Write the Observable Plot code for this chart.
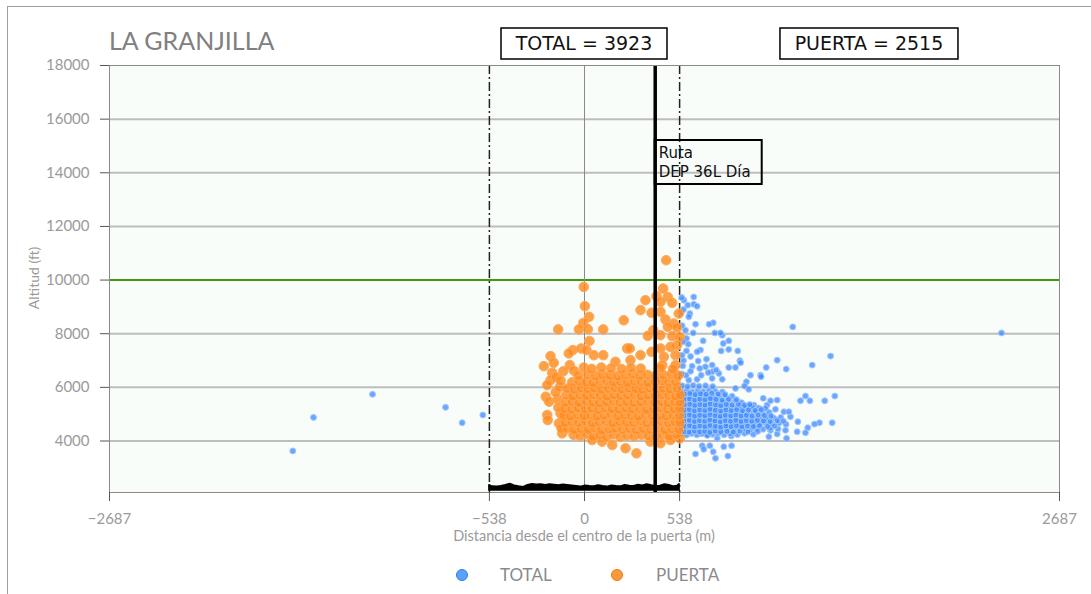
<!DOCTYPE html>
<html><head><meta charset="utf-8">
<script src="https://cdn.jsdelivr.net/npm/d3@7"></script>
<script src="https://cdn.jsdelivr.net/npm/@observablehq/plot@0.6"></script>
<style>
body{margin:0;background:#fff;}
#wrap{position:relative;width:1091px;height:594px;overflow:hidden;}
#wrap svg{position:absolute;left:0;top:0;}
#bl{position:absolute;left:7px;top:6px;width:1px;height:600px;background:#a0a0a0;}
#bt{position:absolute;left:7px;top:6px;width:1090px;height:1px;background:#a0a0a0;}
</style></head><body><div id="wrap"><div id="bl"></div><div id="bt"></div></div>
<script>
// ---- texts ----
const titleText = "LA GRANJILLA";
const totalLabel = "TOTAL = 3923";
const puertaLabel = "PUERTA = 2515";
const routeLines = ["Ruta", "DEP 36L Día"];
const xLabel = "Distancia desde el centro de la puerta (m)";
const yLabel = "Altitud (ft)";
const seriesNames = ["TOTAL", "PUERTA"];

// ---- axes / reference values ----
const xTicks = [-2687, -538, 0, 538, 2687];
const yTicks = [4000, 6000, 8000, 10000, 12000, 14000, 16000, 18000];
const gridY = [4000, 6000, 8000, 12000, 14000, 16000];
const limitFt = 10000;
const gateEdges = [-538, 538];
const routeX = 400;

// ---- TOTAL series (distance m, altitude ft), flat pairs ----
const totalFar = [-1650,3630, -1533,4880, -1199,5740, -786,5255, -692,4680, -575,4970];
const totalOut = [2359,8030, 1178,8255, 1392,7165, 1288,6830, 1090,7015, 1141,6680, 1416,5675, 1250,5675, 1222,5500, 1275,5500, 1359,5500, 1401,4680, 1329,4680, 1301,4630, 1263,4495, 1207,4720, 1203,4345, 1250,4310, 1143,4100, 1165,4905, 1128,5090, 1090,5525, 1033,5340, 1024,5215, 996,6455, 1028,6740, 999,6395, 939,6455, 916,6210, 905,6050, 879,6995, 867,7360, 816,7415, 816,7735, 785,7635, 773,7360, 779,7945, 769,8030, 737,8030, 728,8405, 705,8355, 628,8355, 671,7735, 656,7390, 637,7325, 587,7610, 577,7825, 577,7360, 615,8030, 571,8130, 596,8750, 590,8630, 618,9100, 637,9025, 584,9065, 618,9370, 562,9250, 547,8780, 722,6830, 816,6740, 854,6740, 883,6915, 684,6765, 652,6705, 609,6790, 643,6980, 722,6580, 760,6520, 779,6300, 722,6335, 637,6300, 590,6270, 854,5960, 929,5925, 1011,5590, 958,5340, 1052,5500, 1080,5180, 1156,5090, 939,5300, 628,3515, 666,3825, 709,3825, 675,3690, 728,3600, 741,3355, 788,3790, 811,3440, 832,3825, 830,4185, 751,4100, 694,4225, 1137,4400, 1052,4400, 1090,4260, 1043,4160, 560,7000, 600,6600, 575,6450, 660,6450, 700,6550, 745,6650, 600,7150, 690,7050, 550,6500, 556,6800, 552,7200, 558,7700, 552,8300, 560,8900, 550,9350];
const totalCore = [
548,4260, 577,4220, 606,4280, 636,4230, 664,4270, 695,4210, 724,4250, 756,4290, 790,4230, 826,4270, 865,4240, 905,4290, 955,4250,
552,4460, 580,4430, 610,4480, 639,4440, 668,4470, 698,4420, 727,4460, 757,4490, 786,4440, 815,4470, 845,4430, 876,4480, 906,4450, 938,4420, 972,4470, 1010,4440, 1050,4480, 1095,4450,
549,4640, 578,4670, 607,4630, 636,4680, 665,4650, 694,4620, 723,4670, 752,4640, 781,4680, 810,4630, 840,4660, 869,4690, 898,4640, 928,4670, 958,4630, 990,4660, 1022,4690, 1058,4640, 1100,4670, 1140,4620,
551,4860, 580,4830, 609,4870, 638,4840, 667,4880, 696,4850, 725,4820, 754,4860, 783,4890, 812,4840, 841,4870, 871,4830, 900,4860, 930,4890, 962,4840, 995,4870, 1030,4830, 1070,4860, 1110,4880,
550,5040, 579,5070, 608,5030, 637,5060, 666,5040, 695,5080, 724,5050, 753,5020, 782,5060, 812,5040, 842,5080, 872,5030, 903,5060, 935,5040, 968,5070, 1005,5030, 1045,5060,
552,5260, 581,5230, 610,5270, 639,5240, 668,5280, 697,5250, 726,5220, 755,5260, 785,5240, 815,5270, 846,5230, 878,5260, 912,5240, 948,5280, 985,5230,
549,5440, 578,5470, 607,5430, 636,5460, 665,5480, 694,5440, 724,5470, 754,5430, 785,5460, 818,5440, 852,5480, 888,5430,
551,5660, 580,5630, 609,5670, 638,5640, 668,5680, 698,5650, 729,5620, 762,5660, 797,5640, 835,5670,
550,5840, 579,5870, 609,5830, 640,5860, 672,5840, 705,5880, 740,5850, 780,5830,
553,6060, 583,6030, 615,6070, 648,6040, 685,6060, 725,6030];
const totalCore2 = [
563,4350, 592,4330, 622,4370, 651,4340, 680,4360, 709,4320, 740,4370, 772,4340, 806,4360, 842,4330, 880,4370, 925,4340, 980,4360,
565,4550, 594,4570, 623,4530, 652,4560, 681,4540, 710,4580, 740,4550, 770,4520, 800,4560, 830,4540, 860,4570, 890,4530, 922,4560, 955,4540, 990,4570, 1035,4540, 1075,4560,
564,4750, 593,4770, 622,4730, 651,4760, 680,4740, 709,4780, 738,4750, 768,4720, 797,4760, 826,4740, 856,4770, 886,4730, 915,4760, 946,4740, 978,4770, 1012,4750, 1050,4730, 1090,4760, 1125,4740,
565,4950, 594,4970, 623,4930, 652,4960, 681,4940, 710,4980, 739,4950, 768,4920, 797,4960, 827,4940, 856,4970, 886,4940, 916,4960, 948,4930, 982,4970, 1018,4950, 1055,4930,
564,5150, 593,5170, 622,5130, 652,5160, 681,5140, 710,5180, 740,5150, 770,5120, 800,5160, 830,5140, 861,5170, 893,5130, 928,5160, 965,5140, 1000,5170,
566,5350, 595,5370, 624,5330, 653,5360, 682,5340, 711,5380, 741,5350, 771,5320, 802,5360, 835,5340, 870,5370, 905,5330, 935,5360,
565,5550, 594,5570, 623,5530, 652,5560, 682,5540, 712,5580, 744,5550, 778,5520, 815,5560, 860,5540,
566,5750, 596,5770, 626,5730, 656,5760, 688,5740, 720,5780, 756,5750, 795,5730];

// ---- PUERTA series (distance m, altitude ft), flat pairs ----
const puertaOut = [462,10740, -4,9745, 445,9685, 2,9025, 407,9400, 471,9370, 345,9250, 430,9190, 496,9150, 317,8880, 379,8780, 430,8815, 533,8750, 26,8630, 222,8500, 458,8530, -7,8400, 505,8380, -149,8160, -32,8160, 19,8170, 106,8160, 389,8130, 471,8255, 524,8230, 358,7920, 430,7945, 496,7910, 539,7880, 28,7730, 524,7575, 241,7450, 256,7450, -66,7390, -19,7450, 11,7390, 379,7325, 430,7450, 486,7510, -192,7165, -89,7265, 53,7200, 106,7200, 317,7200, 449,7140, 515,7200, -230,6790, -174,6915, -83,6830, -4,6740, 175,6955, 260,7015, 440,6830, 515,6830, -183,6545, -192,6270, -211,6085, -219,5650, -200,5465, -211,4970, -208,4780, -136,5030, -145,4660, -126,4285, 43,4035, 100,3975, 157,3850, 232,3730, 294,3540, 373,3975, 430,3915, 486,4035, 539,4100, -152,5560, -163,5820, -140,6010, -148,5250, -130,4470, -160,6380, -120,6600, -60,6620, -135,6250];
const puertaCore = [
-62,4230, -25,4180, 12,4250, 48,4170, 86,4220, 125,4160, 163,4240, 202,4150, 240,4210, 281,4170, 322,4230, 360,4190, 402,4160, 441,4220, 480,4180, 522,4240,
-98,4470, -58,4420, -20,4460, 22,4430, 58,4490, 97,4410, 138,4450, 176,4480, 214,4430, 254,4470, 293,4420, 333,4460, 374,4440, 416,4480, 455,4420, 494,4460, 534,4430,
-110,4690, -72,4720, -33,4690, 6,4740, 44,4670, 83,4710, 121,4730, 160,4680, 199,4720, 237,4700, 277,4690, 316,4740, 354,4670, 394,4710, 436,4730, 474,4680, 513,4710, 540,4690,
-118,4960, -80,4930, -41,4980, -3,4940, 34,4970, 71,4920, 111,4960, 150,4990, 189,4930, 227,4970, 264,4950, 304,4920, 344,4980, 384,4940, 424,4960, 462,4930, 500,4970, 537,4950,
-112,5210, -73,5180, -36,5230, 4,5190, 41,5220, 79,5170, 117,5240, 157,5200, 194,5180, 234,5230, 271,5190, 311,5220, 351,5170, 389,5210, 429,5230, 469,5190, 507,5200, 538,5220,
-108,5440, -70,5470, -31,5430, 9,5480, 47,5450, 84,5420, 124,5460, 162,5490, 201,5440, 240,5470, 279,5430, 318,5460, 357,5480, 396,5440, 435,5460, 473,5420, 511,5470, 539,5450,
-104,5710, -66,5680, -27,5720, 12,5690, 50,5730, 88,5700, 127,5670, 166,5720, 204,5690, 243,5710, 282,5740, 321,5680, 360,5710, 399,5690, 438,5730, 476,5700, 515,5680, 540,5720,
-96,5960, -58,5930, -19,5980, 19,5940, 57,5970, 96,5920, 134,5960, 173,5990, 212,5930, 251,5970, 290,5950, 329,5920, 368,5980, 406,5940, 445,5960, 484,5930, 523,5970,
-70,6190, -30,6230, 10,6200, 48,6170, 86,6220, 125,6240, 164,6190, 203,6210, 242,6180, 281,6230, 320,6200, 359,6170, 398,6220, 437,6240, 476,6190, 515,6210,
-35,6440, 20,6470, 62,6430, 101,6480, 146,6450, 188,6420, 231,6460, 272,6490, 314,6440, 356,6470, 401,6430, 447,6460, 492,6490, 530,6440,
40,6690, 95,6740, 150,6710, 210,6680, 262,6730, 318,6700, 430,6720, 500,6680];

// ---- ground strip inside the gate (distance m, top altitude ft) ----
const stripX = [-538,-520,-495,-470,-445,-420,-395,-370,-345,-320,-295,-270,-245,-220,-195,-170,-145,-120,-95,-70,-45,-20,5,30,55,80,105,130,155,180,205,230,255,280,305,330,355,380,405,430,455,480,505,525,538];
const stripTop = [2350,2300,2290,2310,2350,2400,2330,2300,2280,2350,2390,2370,2380,2350,2380,2360,2340,2370,2350,2330,2310,2290,2330,2310,2300,2340,2310,2290,2330,2310,2300,2350,2320,2310,2360,2330,2380,2340,2310,2320,2380,2350,2300,2320,2390];
const stripBase = 2150;

const pairs = (a, s) => { const o = []; for (let i = 0; i < a.length; i += 2) o.push({x: a[i], y: a[i+1], s}); return o; };
const totalPts = [...pairs(totalFar, "TOTAL"), ...pairs(totalOut, "TOTAL"), ...pairs(totalCore, "TOTAL"), ...pairs(totalCore2, "TOTAL")];
const puertaPts = [...pairs(puertaOut, "PUERTA"), ...pairs(puertaCore, "PUERTA")];
const strip = stripX.map((x, i) => ({x, y: stripTop[i]}));

const fmt = d => d < 0 ? "\u2212" + Math.abs(d) : String(d);

const chart = Plot.plot({
  width: 1091, height: 594,
  marginLeft: 109, marginRight: 32, marginTop: 65, marginBottom: 102,
  x: {domain: [-2687, 2687]},
  y: {domain: [2080, 18000]},
  style: {fontFamily: "Lato, sans-serif", fontSize: "15px", background: "transparent"},
  marks: [
    Plot.frame({fill: "#f9fdf9"}),
    Plot.ruleY(gridY, {stroke: "#bdbdbd", strokeWidth: 2}),
    Plot.ruleY([limitFt], {stroke: "#3f9a0c", strokeWidth: 2}),
    Plot.ruleX([0], {stroke: "#8a8a8a", strokeWidth: 1}),
    Plot.ruleX(gateEdges, {stroke: "#222", strokeWidth: 1.5, strokeDasharray: "9,3,2,3"}),
    Plot.dot(totalPts, {x: "x", y: "y", r: 3, fill: "#3a88ff", fillOpacity: 0.75, stroke: "#a6c9ff", strokeWidth: 1}),
    Plot.dot(puertaPts, {x: "x", y: "y", r: 4.8, fill: "#ff8b1e", fillOpacity: 0.82, stroke: "#ffaa5e", strokeWidth: 1}),
    Plot.areaY(strip, {x: "x", y1: stripBase, y2: "y", fill: "#000", stroke: "#000", strokeWidth: 1.5}),
    Plot.ruleX([routeX], {stroke: "#000", strokeWidth: 3.5}),
    Plot.frame({stroke: "#8a8a8a"}),
    Plot.axisY({ticks: yTicks, tickSize: 9, tickPadding: 11, stroke: "#555", fill: "#9a9a9a", label: null, tickFormat: fmt}),
    Plot.axisX({ticks: xTicks, tickSize: 9, tickPadding: 12, stroke: "#555", fill: "#9a9a9a", label: null, tickFormat: fmt})
  ]
});
document.getElementById("wrap").appendChild(chart);

const sx = chart.scale("x"), sy = chart.scale("y");
const svg = d3.select(chart);

// title
svg.append("text").attr("x", 109).attr("y", 50).attr("text-anchor", "start").attr("font-family", "Lato, sans-serif")
  .attr("font-size", 25).attr("fill", "#808080").text(titleText);

// count boxes
function box(cx, w, label) {
  svg.append("rect").attr("x", cx - w / 2).attr("y", 28).attr("width", w).attr("height", 31)
    .attr("fill", "#fff").attr("stroke", "#000").attr("stroke-width", 1.5);
  svg.append("text").attr("x", cx).attr("y", 50).attr("text-anchor", "middle")
    .attr("font-family", "DejaVu Sans, sans-serif").attr("font-size", 19).attr("fill", "#111").text(label);
}
box(sx.apply(0), 166, totalLabel);
box(sx.apply(1612), 178, puertaLabel);

// route annotation
const rx = sx.apply(routeX);
svg.append("rect").attr("x", rx).attr("y", 140).attr("width", 107).attr("height", 44)
  .attr("fill", "none").attr("stroke", "#000").attr("stroke-width", 2);
routeLines.forEach((t, i) => svg.append("text").attr("x", rx + 4).attr("y", 158 + i * 19).attr("text-anchor", "start")
  .attr("font-family", "DejaVu Sans, sans-serif").attr("font-size", 15).attr("fill", "#111").text(t));

// axis titles
svg.append("text").attr("transform", "translate(39,278) rotate(-90)").attr("text-anchor", "middle")
  .attr("font-family", "Lato, sans-serif").attr("font-size", 14).attr("fill", "#9a9a9a").text(yLabel);
svg.append("text").attr("x", sx.apply(0)).attr("y", 541).attr("text-anchor", "middle")
  .attr("font-family", "Lato, sans-serif").attr("font-size", 14.5).attr("fill", "#9a9a9a").text(xLabel);

// legend
const legend = [{cx: 462, tx: 500, fill: "#5aa2ff", stroke: "#2f7de0"}, {cx: 617, tx: 656, fill: "#ff9838", stroke: "#e07a1a"}];
legend.forEach((l, i) => {
  svg.append("circle").attr("cx", l.cx).attr("cy", 575).attr("r", 5.5).attr("fill", l.fill).attr("stroke", l.stroke).attr("stroke-width", 1);
  svg.append("text").attr("x", l.tx).attr("y", 581).attr("text-anchor", "start").attr("font-family", "Lato, sans-serif")
    .attr("font-size", 17).attr("fill", "#8a8a8a").text(seriesNames[i]);
});
</script>
</body></html>
